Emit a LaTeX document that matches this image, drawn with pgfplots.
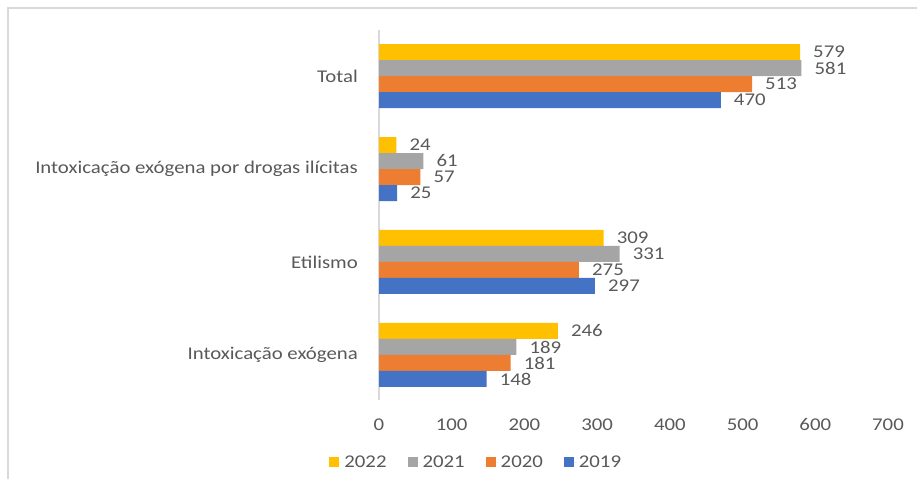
\documentclass[border=0pt]{standalone}
\usepackage{fontspec}
\setmainfont{Carlito}[FakeStretch=1.16]
\usepackage{pgfplots}
\pgfplotsset{compat=1.18}
\definecolor{y22}{HTML}{FFC000}
\definecolor{y21}{HTML}{A5A5A5}
\definecolor{y20}{HTML}{ED7D31}
\definecolor{y19}{HTML}{4472C4}
\definecolor{txt}{HTML}{595959}
\definecolor{frame}{HTML}{D9D9D9}
\begin{document}
\begin{tikzpicture}[x=1bp,y=1bp]
\useasboundingbox (0,0) rectangle (917,479);
\draw[frame, line width=1.5bp] (8,0) -- (8,471) -- (917,471);
\begin{axis}[
    at={(379bp,79bp)}, anchor=south west,
    scale only axis,
    width=509bp, height=370bp,
    xbar, bar width=16bp,
    xmin=0, xmax=700,
    ymin=-0.484, ymax=3.495,
    xtick={0,100,...,700},
    ytick={0,1,2,3},
    yticklabels={Intoxicação exógena, Etilismo, Intoxicação exógena por drogas ilícitas, Total},
    major tick length=0pt,
    axis lines=left,
    x axis line style={draw=none},
    y axis line style={draw=frame, line width=1.5bp, -},
    every tick label/.append style={font=\fontsize{18}{20}\selectfont, text=txt},
    x tick label style={anchor=base, inner sep=0pt, yshift=-31bp},
    y tick label style={anchor=east, inner sep=0pt, xshift=-21bp},
    /pgf/number format/assume math mode=true,
    nodes near coords,
    every node near coord/.append style={anchor=west, inner sep=0pt, xshift=13bp,
        font=\fontsize{18}{20}\selectfont, text=txt},
    legend style={at={(0.191,-0.168)}, anchor=center, legend columns=4, draw=none,
        font=\fontsize{18}{20}\selectfont, text=txt, inner sep=0pt,
        /tikz/every even column/.append style={column sep=19bp}},
    legend image code/.code={\fill[#1] (0bp,-5bp) rectangle (10bp,5bp); \path (0bp,0bp) -- (13bp,0bp);},
]
\addplot[fill=y22, draw=none, bar shift=24bp] coordinates {(246,0) (309,1) (24,2) (579,3)};
\addlegendentry{2022}
\addplot[fill=y21, draw=none, bar shift=8bp] coordinates {(189,0) (331,1) (61,2) (581,3)};
\addlegendentry{2021}
\addplot[fill=y20, draw=none, bar shift=-8bp] coordinates {(181,0) (275,1) (57,2) (513,3)};
\addlegendentry{2020}
\addplot[fill=y19, draw=none, bar shift=-24bp] coordinates {(148,0) (297,1) (25,2) (470,3)};
\addlegendentry{2019}
\end{axis}
\end{tikzpicture}
\end{document}
